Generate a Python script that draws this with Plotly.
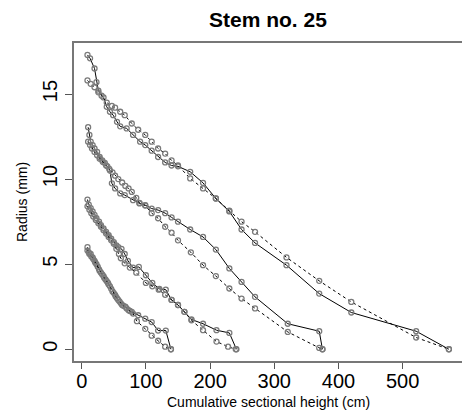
import plotly.graph_objects as go

# Group 1 (outermost ring)
g1_solid_x = [9, 13, 20, 23, 26, 34, 39, 44, 49, 55, 60, 70, 80, 91, 99, 109, 119, 130, 140, 150, 169, 189, 209, 230, 249, 270, 319, 370, 420, 521, 572]
g1_solid_y = [17.3, 17.1, 16.5, 15.7, 15.2, 14.8, 14.25, 13.96, 13.76, 13.37, 13.1, 12.98, 12.6, 12.2, 12.0, 11.67, 11.3, 10.98, 10.8, 10.75, 10.43, 9.78, 8.86, 8.1, 7.04, 6.25, 4.94, 3.27, 2.16, 1.06, 0.0]
g1_dash_x = [9, 14, 20, 26, 31, 39, 47, 52, 60, 67, 78, 88, 99, 109, 119, 130, 140, 150, 169, 189, 209, 230, 249, 270, 319, 370, 420, 521, 572]
g1_dash_y = [15.8, 15.6, 15.4, 15.1, 14.9, 14.5, 14.3, 14.2, 13.96, 13.76, 13.27, 12.9, 12.6, 12.2, 11.8, 11.5, 11.1, 10.8, 10.04, 9.45, 8.86, 8.14, 7.5, 6.9, 5.4, 4.02, 2.78, 0.69, 0.0]

# Group 2
g2_solid_x = [10, 12, 14, 17, 20, 24, 28, 32, 36, 40, 44, 47, 52, 60, 67, 80, 90, 99, 109, 119, 130, 140, 150, 169, 189, 209, 230, 249, 270, 321, 370, 375]
g2_solid_y = [13.05, 12.6, 12.2, 12.0, 11.8, 11.6, 11.3, 11.1, 10.95, 10.75, 10.5, 9.75, 9.45, 9.16, 9.06, 8.76, 8.57, 8.47, 8.27, 8.18, 8.0, 7.75, 7.5, 7.04, 6.6, 5.86, 4.75, 3.96, 3.08, 1.5, 1.06, 0.0]
g2_dash_x = [10, 13, 16, 20, 24, 28, 33, 38, 43, 48, 52, 57, 63, 68, 73, 78, 85, 90, 99, 109, 119, 130, 140, 150, 170, 189, 209, 230, 249, 270, 321, 370, 375]
g2_dash_y = [12.2, 12.0, 11.8, 11.6, 11.4, 11.2, 11.0, 10.8, 10.6, 10.4, 10.2, 10.0, 9.8, 9.6, 9.45, 9.25, 8.9, 8.6, 8.45, 8.0, 7.7, 7.2, 6.85, 6.4, 5.7, 4.94, 4.3, 3.57, 2.98, 2.4, 1.02, 0.08, 0.0]

# Group 3
g3_solid_x = [9, 11, 14, 17, 20, 23, 27, 30, 34, 38, 42, 46, 50, 54, 57, 62, 67, 72, 80, 89, 100, 110, 121, 131, 140, 150, 160, 171, 189, 210, 230, 241]
g3_solid_y = [8.8, 8.5, 8.3, 8.1, 7.9, 7.7, 7.5, 7.3, 7.1, 6.9, 6.7, 6.5, 6.3, 6.1, 6.0, 5.9, 5.6, 5.2, 4.8, 4.84, 4.35, 3.9, 3.55, 3.5, 2.9, 2.6, 2.2, 1.75, 1.5, 1.12, 0.96, 0.0]
g3_dash_x = [9, 12, 15, 18, 22, 26, 30, 34, 38, 42, 46, 50, 54, 58, 61, 67, 75, 85, 100, 110, 120, 130, 140, 150, 160, 171, 189, 210, 228, 240]
g3_dash_y = [8.4, 8.2, 8.0, 7.8, 7.6, 7.4, 7.2, 7.0, 6.8, 6.6, 6.4, 6.2, 5.9, 5.6, 5.35, 5.05, 4.8, 4.5, 3.9, 3.7, 3.5, 3.2, 2.9, 2.6, 2.2, 1.7, 1.12, 0.45, 0.15, 0.0]

# Group 4 (innermost ring)
g4_solid_x = [9, 11, 14, 17, 20, 23, 27, 30, 34, 37, 41, 44, 48, 52, 55, 59, 63, 68, 73, 78, 88, 99, 109, 119, 131, 139]
g4_solid_y = [6.0, 5.7, 5.6, 5.4, 5.2, 5.0, 4.7, 4.5, 4.3, 4.1, 3.9, 3.7, 3.4, 3.2, 3.0, 2.8, 2.6, 2.5, 2.3, 2.2, 2.0, 1.8, 1.6, 1.1, 1.1, 0.0]
g4_dash_x = [9, 12, 15, 18, 21, 25, 28, 32, 35, 39, 42, 46, 50, 53, 57, 61, 65, 70, 75, 80, 86, 99, 109, 119, 130, 139]
g4_dash_y = [5.8, 5.6, 5.45, 5.3, 5.1, 4.85, 4.6, 4.4, 4.2, 4.0, 3.8, 3.55, 3.3, 3.1, 2.9, 2.7, 2.55, 2.4, 2.25, 2.1, 1.65, 1.2, 0.8, 0.5, 0.15, 0.0]

x_ticks = [0, 100, 200, 300, 400, 500]
y_ticks = [0, 5, 10, 15]

title_text = "Stem no. 25"
x_title = "Cumulative sectional height (cm)"
y_title = "Radius (mm)"

FONT = "Liberation Sans, Arial, Helvetica, sans-serif"
marker = dict(symbol="circle-open", size=5, color="#7a7a7a", line=dict(width=1.3, color="#7a7a7a"))

fig = go.Figure()
series = [
    (g1_solid_x, g1_solid_y, "solid"), (g1_dash_x, g1_dash_y, "3px,3px"),
    (g2_solid_x, g2_solid_y, "solid"), (g2_dash_x, g2_dash_y, "3px,3px"),
    (g3_solid_x, g3_solid_y, "solid"), (g3_dash_x, g3_dash_y, "3px,3px"),
    (g4_solid_x, g4_solid_y, "solid"), (g4_dash_x, g4_dash_y, "3px,3px"),
]
for xs, ys, dash in series:
    fig.add_trace(go.Scatter(x=xs, y=ys, mode="lines+markers",
                             line=dict(color="black", width=1, dash=dash),
                             marker=marker, showlegend=False, hoverinfo="skip"))

fig.update_layout(
    width=462, height=412,
    margin=dict(l=74, r=0, t=43, b=51, autoexpand=False),
    paper_bgcolor="white", plot_bgcolor="white",
    font=dict(family=FONT, color="black"),
    xaxis=dict(range=[-12.0, 592.4], tickvals=x_ticks, ticktext=[str(v) for v in x_ticks],
               automargin=False,
               showgrid=False, zeroline=False, showline=True, mirror=True,
               linecolor="#777777", linewidth=1.5, ticks="outside", ticklen=6,
               tickcolor="#555555", tickwidth=1, ticklabelstandoff=-5,
               tickfont=dict(size=20, family=FONT)),
    yaxis=dict(range=[-0.69, 18.0], tickvals=y_ticks, ticktext=[str(v) for v in y_ticks],
               automargin=False,
               showgrid=False, zeroline=False, showline=True, mirror=True,
               linecolor="#777777", linewidth=1.5, ticks="outside", ticklen=7,
               tickcolor="#555555", tickwidth=1, tickangle=-90, ticklabelstandoff=0,
               tickfont=dict(size=20, family=FONT)),
    annotations=[
        dict(text="<b>" + title_text + "</b>", xref="paper", yref="paper", x=0.5, y=1.0,
             yshift=24, xanchor="center", yanchor="middle", showarrow=False,
             font=dict(size=21, family=FONT)),
        dict(text=x_title, xref="paper", yref="paper", x=0.5, y=0.0, yshift=-41,
             xanchor="center", yanchor="middle", showarrow=False,
             font=dict(size=14, family=FONT)),
        dict(text=y_title, xref="paper", yref="paper", x=0.0, y=0.5, xshift=-52,
             xanchor="center", yanchor="middle", showarrow=False, textangle=-90,
             font=dict(size=14, family=FONT)),
    ],
)

fig.write_html("out.html", config={"displayModeBar": False},
               post_script="document.body.style.margin='0';document.body.style.overflow='hidden';")
